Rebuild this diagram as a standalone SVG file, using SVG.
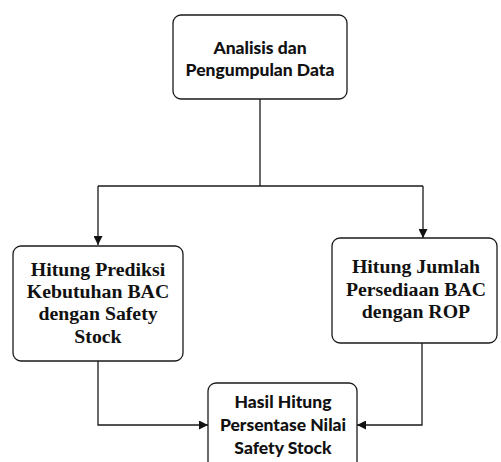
<svg xmlns="http://www.w3.org/2000/svg" width="501" height="462" viewBox="0 0 501 462">
<style>
.box{fill:#fff;stroke:#1a1a1a;stroke-width:1.3}
.sans{font-family:Lato,"Liberation Sans",sans-serif;font-weight:900;font-size:17.5px;fill:#111;text-anchor:middle}
.serif{font-family:"Liberation Serif","DejaVu Serif",serif;font-weight:bold;font-size:19.8px;fill:#111;text-anchor:middle}
.line{fill:none;stroke:#1a1a1a;stroke-width:1.3}
</style>
<defs>
<marker id="arr" viewBox="0 0 10 10" refX="10" refY="5" markerWidth="9" markerHeight="9" markerUnits="userSpaceOnUse" orient="auto">
<path d="M0,0 L10,5 L0,10 z" fill="#111"/>
</marker>
</defs>
<rect width="501" height="462" fill="#fff"/>
<g id="connectors">
<path class="line" d="M260,99 V186"/>
<path class="line" d="M98,186 H423"/>
<path class="line" d="M98,186 V245" marker-end="url(#arr)"/>
<path class="line" d="M423,186 V238" marker-end="url(#arr)"/>
<path class="line" d="M98,361 V425 H208" marker-end="url(#arr)"/>
<path class="line" d="M422,343 V425 H357" marker-end="url(#arr)"/>
</g>
<g id="n1">
<rect class="box" x="173" y="15" width="174" height="84" rx="8"/>
<text class="sans" x="260" y="54">Analisis dan</text>
<text class="sans" x="260" y="76">Pengumpulan Data</text>
</g>
<g id="n2">
<rect class="box" x="13" y="246" width="170" height="115" rx="8"/>
<text class="serif" x="98" y="276">Hitung Prediksi</text>
<text class="serif" x="98" y="298">Kebutuhan BAC</text>
<text class="serif" x="98" y="320">dengan Safety</text>
<text class="serif" x="98" y="343">Stock</text>
</g>
<g id="n3">
<rect class="box" x="332" y="238" width="165" height="105" rx="8"/>
<text class="serif" x="416" y="273">Hitung Jumlah</text>
<text class="serif" x="416" y="296">Persediaan BAC</text>
<text class="serif" x="416" y="318">dengan ROP</text>
</g>
<g id="n4">
<rect class="box" x="208" y="383" width="149" height="100" rx="8"/>
<text class="sans" x="283" y="408">Hasil Hitung</text>
<text class="sans" x="283" y="431">Persentase Nilai</text>
<text class="sans" x="283" y="454">Safety Stock</text>
</g>
</svg>
